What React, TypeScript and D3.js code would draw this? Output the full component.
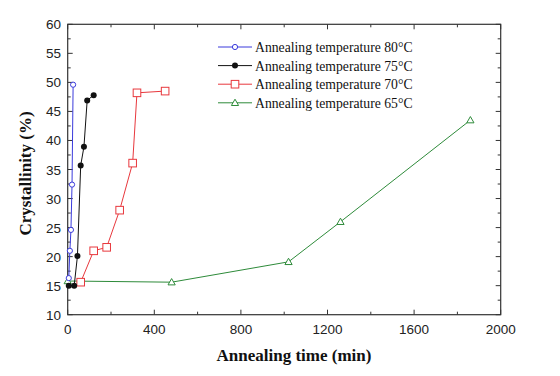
import React from "react";
import * as d3 from "d3";

const t80 = [5, 10, 15, 20, 25];
const v80 = [16.3, 21.0, 24.6, 32.4, 49.6];
const t75 = [5, 30, 45, 60, 75, 90, 120];
const v75 = [15.0, 15.0, 20.1, 35.7, 38.9, 46.9, 47.8];
const t70 = [60, 120, 180, 240, 300, 320, 450];
const v70 = [15.6, 21.0, 21.6, 28.0, 36.1, 48.2, 48.5];
const t65 = [0, 480, 1020, 1260, 1860];
const v65 = [15.8, 15.6, 19.1, 26.0, 43.5];
const seriesNames = [
  "Annealing temperature 80°C",
  "Annealing temperature 75°C",
  "Annealing temperature 70°C",
  "Annealing temperature 65°C",
];
const xTicks = [0, 400, 800, 1200, 1600, 2000];
const yTicks = [10, 15, 20, 25, 30, 35, 40, 45, 50, 55, 60];

const W = 560, H = 376;
const L = 67.7, R = 500.7, T = 24.3, B = 314.7;

export default function App() {
  const x = d3.scaleLinear().domain([0, 2000]).range([L, R]);
  const y = d3.scaleLinear().domain([10, 60]).range([B, T]);
  const series = [
    { t: t65, v: v65, color: "#2e8b3a", marker: "tri", name: seriesNames[3] },
    { t: t70, v: v70, color: "#e8383d", marker: "sq", name: seriesNames[2] },
    { t: t75, v: v75, color: "#111111", marker: "dot", name: seriesNames[1] },
    { t: t80, v: v80, color: "#3b3bdc", marker: "circ", name: seriesNames[0] },
  ];
  const line = d3.line<[number, number]>().x((d) => x(d[0])).y((d) => y(d[1]));
  const marker = (m: string, cx: number, cy: number, color: string, key: any) => {
    if (m === "circ")
      return <circle key={key} cx={cx} cy={cy} r={2.6} fill="white" stroke={color} strokeWidth={1} />;
    if (m === "dot") return <circle key={key} cx={cx} cy={cy} r={3} fill={color} />;
    if (m === "sq")
      return <rect key={key} x={cx - 3.8} y={cy - 3.8} width={7.6} height={7.6} fill="white" stroke={color} strokeWidth={1} />;
    const s = 3.6;
    return (
      <path key={key} d={`M${cx},${cy - s} L${cx + s},${cy + s * 0.75} L${cx - s},${cy + s * 0.75} Z`} fill="white" stroke={color} strokeWidth={1} />
    );
  };
  const xMinor = d3.range(0, 2001, 200);
  const yMinor = d3.range(10, 60.01, 2.5);
  const legendOrder = [3, 2, 1, 0];
  return (
    <svg width={W} height={H} style={{ position: "absolute", left: 0, top: 0, background: "white" }}>
      <rect x={0} y={0} width={W} height={H} fill="white" />
      {xMinor.map((v, i) => {
        const len = v % 400 === 0 ? 5 : 3;
        return (
          <g key={"xt" + i} stroke="#333" strokeWidth={1}>
            <line x1={x(v)} x2={x(v)} y1={B} y2={B - len} />
            <line x1={x(v)} x2={x(v)} y1={T} y2={T + len} />
          </g>
        );
      })}
      {yMinor.map((v, i) => {
        const len = Math.abs(v % 5) < 1e-6 ? 5 : 3;
        return (
          <g key={"yt" + i} stroke="#333" strokeWidth={1}>
            <line x1={L} x2={L + len} y1={y(v)} y2={y(v)} />
            <line x1={R} x2={R - len} y1={y(v)} y2={y(v)} />
          </g>
        );
      })}
      <rect x={L} y={T} width={R - L} height={B - T} fill="none" stroke="#333" strokeWidth={1.2} />
      {xTicks.map((v) => (
        <text key={"xl" + v} x={x(v)} y={334} textAnchor="middle" fontFamily="Liberation Sans, Arial, sans-serif" fontSize={13.5} fill="#222">
          {v}
        </text>
      ))}
      {yTicks.map((v) => (
        <text key={"yl" + v} x={61} y={y(v) + 5} textAnchor="end" fontFamily="Liberation Sans, Arial, sans-serif" fontSize={13.5} fill="#222">
          {v}
        </text>
      ))}
      <text x={294} y={361} textAnchor="middle" fontFamily="Liberation Serif, Times New Roman, serif" fontWeight="bold" fontSize={17} fill="#111">
        Annealing time (min)
      </text>
      <text transform={`translate(31,${(T + B) / 2 + 4}) rotate(-90)`} textAnchor="middle" fontFamily="Liberation Serif, Times New Roman, serif" fontWeight="bold" fontSize={17} fill="#111">
        Crystallinity (%)
      </text>
      {series.map((s, si) => {
        const pts = s.t.map((t, i) => [t, s.v[i]] as [number, number]);
        return (
          <g key={"s" + si}>
            <path d={line(pts) || ""} fill="none" stroke={s.color} strokeWidth={1} />
            {pts.map((p, i) => marker(s.marker, x(p[0]), y(p[1]), s.color, i))}
          </g>
        );
      })}
      {legendOrder.map((si, row) => {
        const s = series[si];
        const yy = 47 + row * 18.6;
        return (
          <g key={"lg" + row}>
            <line x1={218} x2={252} y1={yy} y2={yy} stroke={s.color} strokeWidth={1} />
            {marker(s.marker, 235, yy, s.color, "m")}
            <text x={255} y={yy + 5} fontFamily="Liberation Serif, Times New Roman, serif" fontSize={13.7} fill="#111">
              {s.name}
            </text>
          </g>
        );
      })}
    </svg>
  );
}
